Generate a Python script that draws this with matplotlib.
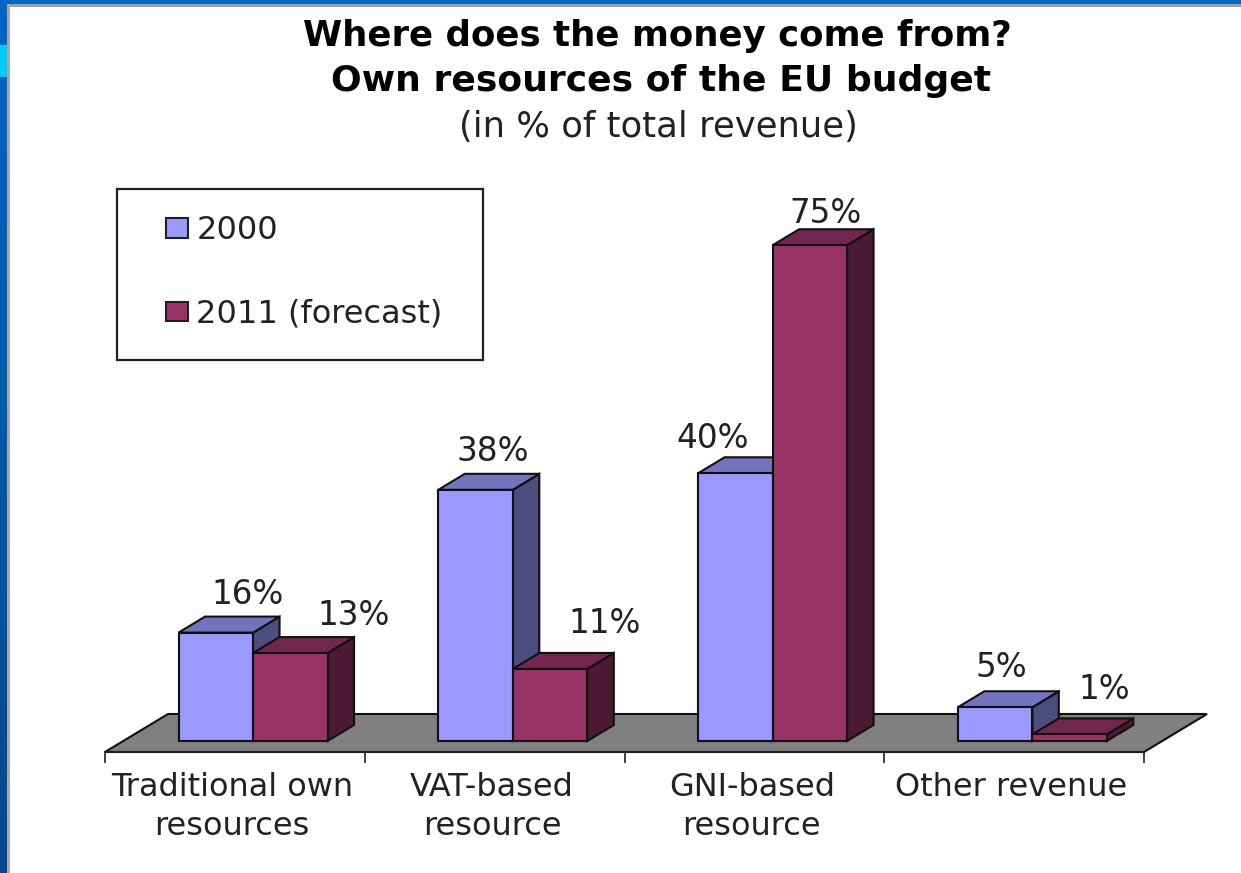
import matplotlib
matplotlib.use("Agg")
import matplotlib.pyplot as plt
import numpy as np
from matplotlib.patches import Patch, Rectangle

W, H = 1241, 873

categories = ["Traditional own\nresources", "VAT-based\nresource", "GNI-based\nresource", "Other revenue"]
series_names = ["2000", "2011 (forecast)"]
vals_2000 = [16.4, 38, 40.5, 5.1]
vals_2011 = [13.3, 10.9, 75, 1]
labels_2000 = ["16%", "38%", "40%", "5%"]
labels_2011 = ["13%", "11%", "75%", "1%"]

# where each value label sits relative to its bar top, in pixels
offs_2000 = [(32, 38), (17, 38), (-23, 35), (6, 40)]
offs_2011 = [(63, 38), (55, 45), (16, 32), (35, 45)]

plt.rcParams["font.family"] = "DejaVu Sans"
fig = plt.figure(figsize=(W / 100, H / 100), dpi=100, facecolor="white")

# slide frame around the chart
bg = fig.add_axes([0, 0, 1, 1], zorder=0)
bg.set_xlim(0, W)
bg.set_ylim(H, 0)
bg.axis("off")
grad = np.linspace(0, 1, 256).reshape(-1, 1)
cmap = matplotlib.colors.LinearSegmentedColormap.from_list("slide", ["#0066c4", "#004a8c"])
bg.imshow(grad, extent=(0, 7, H, 0), cmap=cmap, aspect="auto")
bg.add_patch(Rectangle((0, 0), W, 4, color="#0066c4", lw=0))
bg.add_patch(Rectangle((0, 45), 7, 32, color="#00ccff", lw=0))
bg.add_patch(Rectangle((7, 4), W, 2.5, color="#a0a0a0", lw=0))
bg.add_patch(Rectangle((7, 4), 3, H, color="#a8a8a8", lw=0))
bg.set_xlim(0, W)
bg.set_ylim(H, 0)

# axes: x in categories, y in percent, zero sits 11px above the axis line
left, right, axis_y = 105, 1144, 752
px_y = 6.61
ax = fig.add_axes([left / W, (H - axis_y) / H, (right - left) / W, 600 / H], zorder=1)
ax.patch.set_alpha(0)
ax.set_xlim(0, 4)
ax.set_ylim(-11 / px_y, (600 - 11) / px_y)
px_x = (right - left) / 4
for s in ["top", "left", "right"]:
    ax.spines[s].set_visible(False)
ax.spines["bottom"].set_linewidth(1.5)
ax.spines["bottom"].set_color("#202020")
ax.yaxis.set_visible(False)
ax.set_xticks(range(5))
ax.set_xticklabels([])
ax.set_xticks(np.arange(4) + 0.49, labels=categories, minor=True)
ax.tick_params(axis="x", which="major", length=8, width=1.2, color="#202020")
ax.tick_params(axis="x", which="minor", length=0, pad=14.5, labelsize=23, labelcolor="#222222")
for t in ax.get_xticklabels(minor=True):
    t.set_linespacing(1.33)
    t.set_ha("center")

# floor
fdx, fdy = 63 / px_x, 38 / px_y
y0 = -11 / px_y
ax.fill([0, 4, 4 + fdx, fdx], [y0, y0, y0 + fdy, y0 + fdy], facecolor="#808080",
        edgecolor="#101010", lw=1.5, clip_on=False, zorder=1)

bar_w = 74.5 / px_x
ddx, ddy = 26.5 / px_x, 16 / px_y
x = np.arange(4)
x_2000 = x + 0.5 + 0.07 - bar_w / 2
x_2011 = x + 0.5 + 0.07 + bar_w / 2


def bars_3d(xs, vals, front, top, side, z):
    ax.bar(xs, vals, bar_w, color=front, edgecolor="#101010", lw=1.5, zorder=z + 1)
    for xc, v in zip(xs, vals):
        xl, xr = xc - bar_w / 2, xc + bar_w / 2
        ax.fill([xr, xr + ddx, xr + ddx, xr], [0, ddy, v + ddy, v], facecolor=side,
                edgecolor="#101010", lw=1.5, zorder=z)
        ax.fill([xl, xr, xr + ddx, xl + ddx], [v, v, v + ddy, v + ddy], facecolor=top,
                edgecolor="#101010", lw=1.5, zorder=z)


bars_3d(x_2000, vals_2000, "#9999ff", "#7373bf", "#4d4d80", 3)
bars_3d(x_2011, vals_2011, "#993366", "#73264d", "#4d1a33", 5)

for xs, vals, labs, offs in [(x_2000, vals_2000, labels_2000, offs_2000),
                             (x_2011, vals_2011, labels_2011, offs_2011)]:
    for xc, v, lab, off in zip(xs, vals, labs, offs):
        ax.annotate(lab, (xc, v), xytext=off, textcoords="offset pixels", ha="center",
                    va="center", fontsize=23.5, color="#222222", zorder=10)

# titles
fig.text(657 / W, 1 - 36 / H, "Where does the money come from?", ha="center", va="center",
         fontsize=25.6, fontweight="bold", color="black")
fig.text(661 / W, 1 - 81 / H, "Own resources of the EU budget", ha="center", va="center",
         fontsize=26, fontweight="bold", color="black")
fig.text(658 / W, 1 - 127 / H, "(in % of total revenue)", ha="center", va="center",
         fontsize=25.5, color="#222222")

# legend box
bg.add_patch(Rectangle((116.5, 188.5), 366, 171, facecolor="white", edgecolor="#202020", lw=1.6, zorder=2))
handles = [Patch(facecolor="#9999ff", edgecolor="#202020", lw=1.5),
           Patch(facecolor="#993366", edgecolor="#202020", lw=1.5)]
ax.legend(handles, series_names, loc="upper left", frameon=False, fontsize=23,
          bbox_to_anchor=(166 / W, 1 - 215 / H), bbox_transform=fig.transFigure, borderpad=0,
          borderaxespad=0, handlelength=0.7, handleheight=0.57, handletextpad=0.25,
          labelspacing=1.65, labelcolor="#222222")

fig.savefig("out.png", dpi=100, facecolor="white")
